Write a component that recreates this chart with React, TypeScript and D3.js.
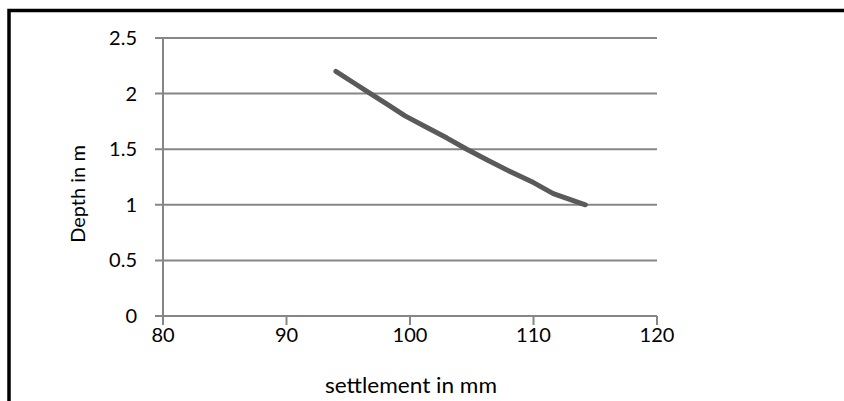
import React from "react";
import * as d3 from "d3";

const settlement = [94.0, 95.4, 96.8, 98.2, 99.6, 101.3, 103.0, 104.6, 106.3, 108.1, 110.0, 111.6, 114.2];
const depth = [2.2, 2.1, 2.0, 1.9, 1.8, 1.7, 1.6, 1.5, 1.4, 1.3, 1.2, 1.1, 1.0];
const xTicks = [80, 90, 100, 110, 120];
const yTicks = [0, 0.5, 1, 1.5, 2, 2.5];
const xTitle = "settlement in mm";
const yTitle = "Depth in m";

const W = 844;
const H = 401;
const FONT = "Lato, 'Open Sans', sans-serif";

export default function App() {
  const x = d3.scaleLinear().domain([80, 120]).range([163, 657]);
  const y = d3.scaleLinear().domain([0, 2.5]).range([316, 38]);
  const pts = settlement.map((s, i) => [s, depth[i]] as [number, number]);
  const line = d3
    .line<[number, number]>()
    .x((d) => x(d[0]))
    .y((d) => y(d[1]))
    .curve(d3.curveLinear);
  const grid = "#868686";
  return (
    <div style={{ position: "fixed", left: 0, top: 0 }}>
      <svg width={W} height={H} style={{ display: "block", background: "#fff" }}>
        <rect x={0} y={0} width={W} height={H} fill="#fff" />
        {/* frame */}
        <path d={`M9,${H + 5} V10.5 H${W + 5}`} fill="none" stroke="#000" strokeWidth={3.5} />
        {/* gridlines */}
        {yTicks.map((t) => (
          <line key={"g" + t} x1={155} x2={x(120)} y1={y(t)} y2={y(t)} stroke={grid} strokeWidth={2} />
        ))}
        {/* y axis */}
        <line x1={x(80)} x2={x(80)} y1={y(2.5)} y2={y(0)} stroke={grid} strokeWidth={2} />
        {/* x ticks */}
        {xTicks.map((t) => (
          <line key={"xt" + t} x1={x(t)} x2={x(t)} y1={y(0)} y2={y(0) + 9} stroke={grid} strokeWidth={2} />
        ))}
        {/* y tick labels */}
        {yTicks.map((t) => (
          <text
            key={"yl" + t}
            x={137}
            y={y(t)}
            dy="0.35em"
            textAnchor="end"
            fontFamily={FONT}
            fontSize={20}
            fill="#000"
          >
            {t}
          </text>
        ))}
        {/* x tick labels */}
        {xTicks.map((t) => (
          <text
            key={"xl" + t}
            x={x(t)}
            y={342}
            textAnchor="middle"
            fontFamily={FONT}
            fontSize={20}
            fill="#000"
          >
            {t}
          </text>
        ))}
        {/* data line */}
        <path
          d={line(pts) || ""}
          fill="none"
          stroke="#5a5a5a"
          strokeWidth={5}
          strokeLinecap="round"
          strokeLinejoin="round"
        />
        {/* titles */}
        <text
          x={411}
          y={393}
          textAnchor="middle"
          fontFamily={FONT}
          fontSize={21}
          textLength={172}
          lengthAdjust="spacingAndGlyphs"
          fill="#000"
        >
          {xTitle}
        </text>
        <text
          transform={`translate(85,194) rotate(-90)`}
          textAnchor="middle"
          fontFamily={FONT}
          fontSize={20}
          fill="#000"
        >
          {yTitle}
        </text>
      </svg>
    </div>
  );
}
